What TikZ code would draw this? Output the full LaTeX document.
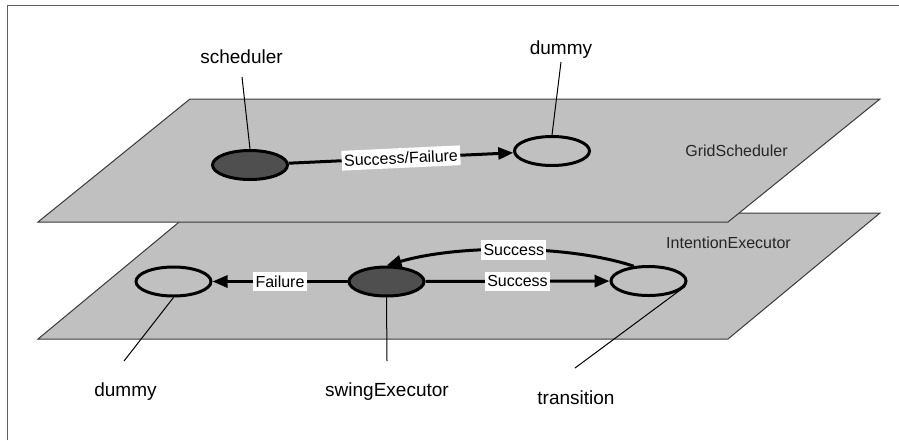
\documentclass[tikz,border=0pt]{standalone}
\usepackage{fontspec}
\setmainfont{Liberation Sans}
\usepackage{tikz}
\usetikzlibrary{positioning, shapes.geometric, arrows.meta}

\definecolor{planegray}{HTML}{C0C0C0}
\definecolor{busygray}{HTML}{4F4F4F}
\definecolor{edgegray}{HTML}{3A3A3A}

\begin{document}
\begin{tikzpicture}[x=0.5pt, y=-0.5pt, >={Triangle[length=7.5pt, width=6pt]},
    plane/.style={fill=planegray, draw=edgegray, line width=0.5pt},
    state/.style={ellipse, draw, line width=1.5pt, minimum width=37.5pt, minimum height=14.5pt, inner sep=0pt},
    busy/.style={state, fill=busygray},
    flow/.style={->, line width=1.5pt},
    lbl/.style={fill=white, inner xsep=1.2pt, inner ysep=2pt, font=\fontsize{8}{9.6}\selectfont},
    leader/.style={line width=0.5pt},
    tag/.style={anchor=base, font=\fontsize{9.5}{11.4}\selectfont},
    layer/.style={anchor=base, text=black!85, font=\fontsize{8}{9.6}\selectfont}]

    \useasboundingbox (0,0) rectangle (899,440);

    % frame
    \draw[edgegray!80, line width=0.75pt] (7.5,440) -- (7.5,5.5) -- (899,5.5);

    % the two layers
    \draw[plane] (190,213) -- (880,213) -- (728,339) -- (38,339) -- cycle;
    \draw[plane] (190,99) -- (880,99) -- (728,222) -- (38,222) -- cycle;
    \node[layer] (gridlbl) at (736.5,156) {GridScheduler};
    \node[layer] (intlbl) at (728.5,248) {IntentionExecutor};

    % upper layer
    \node[busy] (sched) at (250,165) {};
    \node[state] (dum1) at (552,151) {};
    \draw[flow] (sched) -- node[lbl, sloped] {Success/Failure} (dum1);

    % lower layer
    \node[busy] (swing) at (386.5,281.5) {};
    \node[state] (dum2) at (173.5,281.5) {};
    \node[state] (trans) at (648.5,281) {};
    \draw[flow] (swing) -- node[lbl] {Failure} (dum2);
    \draw[flow] (swing) -- node[lbl] {Success} (trans);
    \draw[flow] (trans.135) .. controls (570,245) and (460,244) .. node[lbl] {Success} (swing.north);

    % names and leader lines
    \node[tag] (schedname) at (241.5,63) {scheduler};
    \node[tag] (dum1name) at (561,54) {dummy};
    \node[tag] (dum2name) at (125.5,396) {dummy};
    \node[tag] (swingname) at (387,396) {swingExecutor};
    \node[tag] (transname) at (576,404) {transition};
    \coordinate (schedend) at (242,77);
    \coordinate (dum1end) at (561,62);
    \coordinate (dum2end) at (124,361);
    \coordinate (swingend) at (387,361);
    \coordinate (transend) at (575,368);
    \draw[leader] (schedend) -- (sched.north);
    \draw[leader] (dum1end) -- (dum1.north);
    \draw[leader] (dum2end) -- (dum2.south);
    \draw[leader] (swingend) -- (swing.south);
    \draw[leader] (transend) -- (trans.352);

\end{tikzpicture}
\end{document}
